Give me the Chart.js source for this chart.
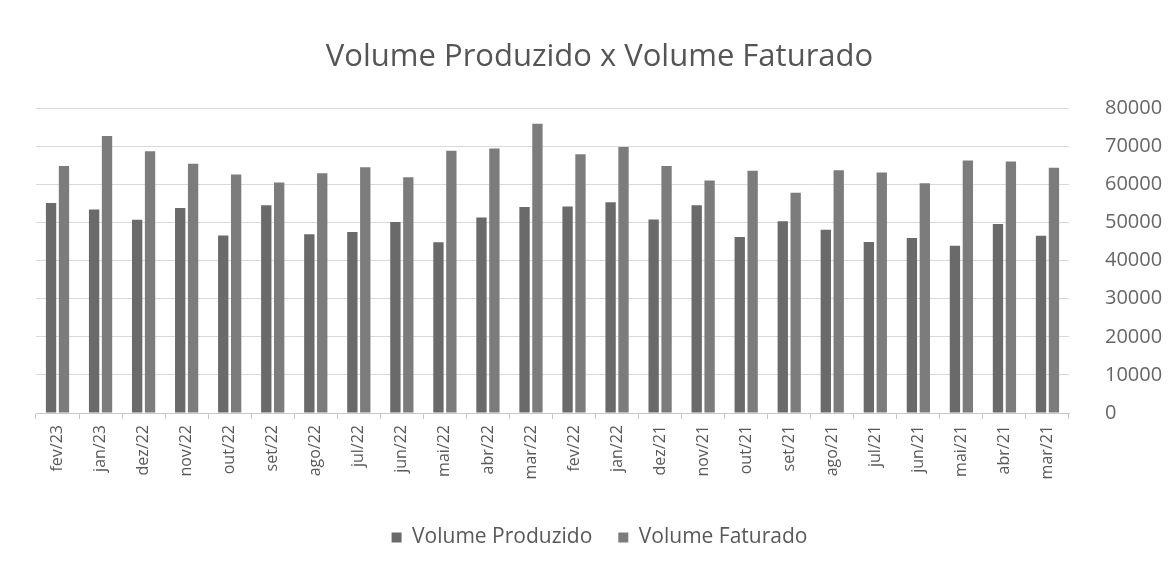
<!DOCTYPE html>
<html>
<head>
<meta charset="utf-8">
<script src="https://cdn.jsdelivr.net/npm/chart.js@4"></script>
<style>
  html, body { margin: 0; padding: 0; background: #ffffff; }
  #wrap { width: 1172px; height: 570px; }
</style>
</head>
<body>
<div id="wrap"><canvas id="volumeChart" width="1172" height="570"></canvas></div>
<script>
// months, newest first (as in the original sheet)
const meses = ['fev/23', 'jan/23', 'dez/22', 'nov/22', 'out/22', 'set/22', 'ago/22', 'jul/22',
  'jun/22', 'mai/22', 'abr/22', 'mar/22', 'fev/22', 'jan/22', 'dez/21', 'nov/21', 'out/21',
  'set/21', 'ago/21', 'jul/21', 'jun/21', 'mai/21', 'abr/21', 'mar/21'];

// values
const volumeProduzido = [55100, 53400, 50700, 53800, 46600, 54500, 46900, 47500, 50100, 44800,
  51300, 54100, 54200, 55300, 50800, 54500, 46200, 50300, 48100, 44900, 45900, 43900, 49600, 46500];
const volumeFaturado = [64800, 72700, 68700, 65400, 62600, 60500, 62900, 64500, 61900, 68800,
  69400, 75900, 67900, 69800, 64800, 61000, 63600, 57800, 63700, 63100, 60300, 66300, 66000, 64400];

const eixoMin = 0;
const eixoMax = 80000;
const eixoPasso = 10000;

const fonte = "'Open Sans', 'Noto Sans', sans-serif";
const corTexto = '#595959';

Chart.defaults.font.family = fonte;
Chart.defaults.color = corTexto;

const ctx = document.getElementById('volumeChart').getContext('2d');

new Chart(ctx, {
  type: 'bar',
  data: {
    labels: meses,
    datasets: [
      {
        label: 'Volume Produzido',
        data: volumeProduzido,
        backgroundColor: '#6a6a6a',
        categoryPercentage: 0.6,
        barPercentage: 0.8
      },
      {
        label: 'Volume Faturado',
        data: volumeFaturado,
        backgroundColor: '#7c7c7c',
        categoryPercentage: 0.6,
        barPercentage: 0.8
      }
    ]
  },
  options: {
    responsive: false,
    animation: false,
    layout: {
      padding: { left: 36, right: 9, top: 10, bottom: 12 }
    },
    plugins: {
      title: {
        display: true,
        text: 'Volume Produzido x Volume Faturado',
        color: '#555555',
        font: { size: 31, weight: 'normal' },
        padding: { top: 29, bottom: 32 }
      },
      legend: {
        position: 'bottom',
        labels: {
          boxWidth: 10,
          boxHeight: 10,
          padding: 26,
          color: corTexto,
          font: { size: 21 }
        }
      },
      tooltip: { enabled: false }
    },
    scales: {
      x: {
        grid: {
          display: true,
          drawOnChartArea: false,
          drawTicks: true,
          tickLength: 6,
          color: '#c8c8c8'
        },
        border: { display: true, color: '#c8c8c8' },
        ticks: {
          minRotation: 90,
          maxRotation: 90,
          padding: 6,
          color: corTexto,
          font: { size: 16 }
        },
        afterFit: function (scale) {
          scale.height = 88;
        }
      },
      y: {
        position: 'right',
        min: eixoMin,
        max: eixoMax,
        ticks: {
          stepSize: eixoPasso,
          padding: 36,
          color: '#666666',
          font: { size: 20 },
          callback: function (value) { return String(value); }
        },
        grid: {
          color: '#d9d9d9',
          drawTicks: false
        },
        border: { display: false },
        afterFit: function (scale) {
          scale.width = 94;
        }
      }
    }
  }
});
</script>
</body>
</html>
